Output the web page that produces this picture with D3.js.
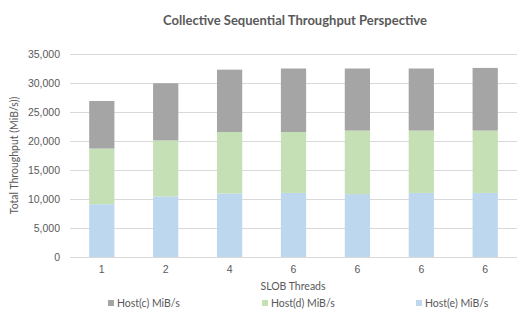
<!DOCTYPE html>
<html>
<head>
<meta charset="utf-8">
<script src="https://cdn.jsdelivr.net/npm/d3@7"></script>
<style>
  body { margin: 0; background: #fff; }
  svg { font-family: Lato, "Open Sans", sans-serif; }
</style>
</head>
<body>
<div id="chart"></div>
<script>
// Dades del gràfic
const threadLabels = ["1", "2", "4", "6", "6", "6", "6"];
const hostE = [9100, 10450, 10950, 11050, 10850, 11050, 11050];
const hostD = [9600, 9650, 10600, 10500, 10950, 10750, 10750];
const hostC = [8200, 9850, 10750, 10950, 10700, 10700, 10800];
const seriesNames = ["Host(c) MiB/s", "Host(d) MiB/s", "Host(e) MiB/s"];
const yTicks = [0, 5000, 10000, 15000, 20000, 25000, 30000, 35000];

const width = 532, height = 323;
const margin = { top: 54, right: 15, bottom: 66, left: 70 };
const textColor = "#595959";

const svg = d3.select("#chart").append("svg")
    .attr("width", width)
    .attr("height", height);

// Taula per a l'apilament (ordre: e a baix, d al mig, c a dalt)
const table = threadLabels.map((t, i) => ({ idx: i, e: hostE[i], d: hostD[i], c: hostC[i] }));
const stack = d3.stack().keys(["e", "d", "c"]);
const stacked = stack(table);
const color = d3.scaleOrdinal().domain(["c", "d", "e"]).range(["#a5a5a5", "#c5e0b4", "#bdd7ee"]);

const x = d3.scaleBand()
    .domain(d3.range(threadLabels.length))
    .range([margin.left, width - margin.right])
    .paddingInner(0.605)
    .paddingOuter(0.3);

const y = d3.scaleLinear()
    .domain([0, 35000])
    .range([height - margin.bottom, margin.top]);

// Línies de graella
svg.append("g")
    .selectAll("line")
    .data(yTicks)
    .join("line")
    .attr("x1", margin.left)
    .attr("x2", width - margin.right)
    .attr("y1", d => Math.round(y(d)) + 0.5)
    .attr("y2", d => Math.round(y(d)) + 0.5)
    .attr("stroke", "#d9d9d9")
    .attr("stroke-width", 1);

// Eix Y (només etiquetes)
const yAxis = svg.append("g")
    .attr("transform", `translate(${margin.left - 10},0)`)
    .call(d3.axisLeft(y).tickValues(yTicks).tickFormat(d3.format(",")).tickSize(0));
yAxis.select(".domain").remove();
yAxis.selectAll("text").attr("fill", textColor).attr("font-size", 10.5).attr("x", 0);

// Barres apilades
svg.append("g")
    .selectAll("g")
    .data(stacked)
    .join("g")
    .attr("fill", d => color(d.key))
    .selectAll("rect")
    .data(d => d)
    .join("rect")
    .attr("x", d => x(d.data.idx))
    .attr("width", x.bandwidth())
    .attr("y", d => y(d[1]))
    .attr("height", d => y(d[0]) - y(d[1]));

// Eix X (etiquetes)
const xAxis = svg.append("g")
    .attr("transform", `translate(0,${height - margin.bottom})`)
    .call(d3.axisBottom(x).tickFormat(i => threadLabels[i]).tickSize(0));
xAxis.select(".domain").remove();
xAxis.selectAll("text").attr("fill", textColor).attr("font-size", 10.5).attr("dy", "1.25em");

// Títol
svg.append("text")
    .attr("x", 295)
    .attr("y", 25)
    .attr("text-anchor", "middle")
    .attr("font-size", 13)
    .attr("font-weight", "bold")
    .attr("fill", textColor)
    .text("Collective Sequential Throughput Perspective");

// Títols dels eixos
svg.append("text")
    .attr("transform", `translate(14,${(margin.top + height - margin.bottom) / 2}) rotate(-90)`)
    .attr("text-anchor", "middle")
    .attr("dominant-baseline", "central")
    .attr("font-size", 10.5)
    .attr("fill", textColor)
    .text("Total Throughput (MiB/s))");

svg.append("text")
    .attr("x", 293)
    .attr("y", 290)
    .attr("text-anchor", "middle")
    .attr("font-size", 10.5)
    .attr("fill", textColor)
    .text("SLOB Threads");

// Llegenda
const legendX = [108, 262, 416];
const legend = svg.append("g")
    .selectAll("g")
    .data(["c", "d", "e"])
    .join("g")
    .attr("transform", (d, i) => `translate(${legendX[i]},303)`);
legend.append("rect")
    .attr("x", 0).attr("y", -3)
    .attr("width", 6).attr("height", 6)
    .attr("fill", d => color(d));
legend.append("text")
    .attr("x", 9).attr("y", 3.5)
    .attr("font-size", 10.5)
    .attr("fill", textColor)
    .text((d, i) => seriesNames[i]);
</script>
</body>
</html>
